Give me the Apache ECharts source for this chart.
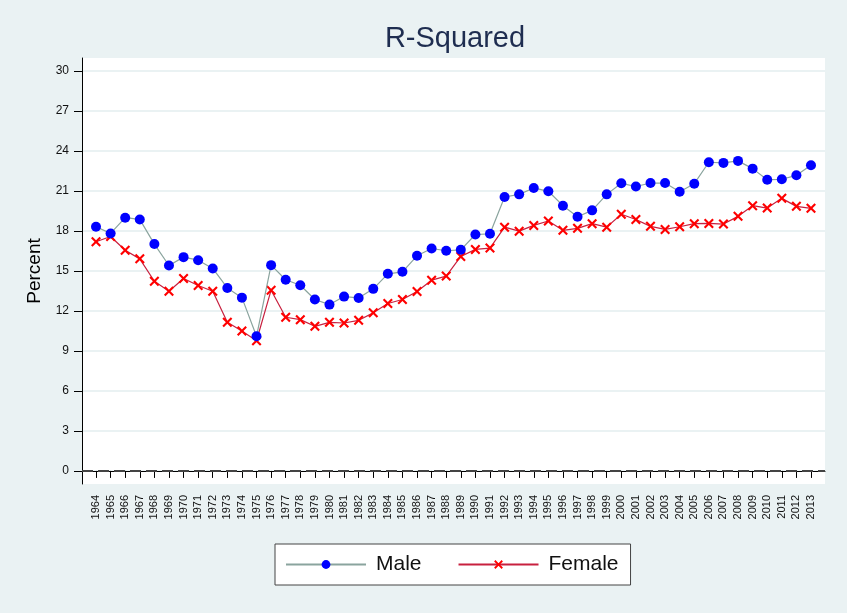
<!DOCTYPE html>
<html>
<head>
<meta charset="utf-8">
<script src="https://cdn.jsdelivr.net/npm/echarts@6/dist/echarts.min.js"></script>
<style>
  html, body { margin: 0; padding: 0; background: #eaf2f3; }
  #chart { width: 847px; height: 613px; }
</style>
</head>
<body>
<div id="chart"></div>
<script>
// years on the x axis
var years = [];
for (var y = 1964; y <= 2013; y++) years.push(y);

// values (percent)
var male = [18.32, 17.82, 19.0, 18.87, 17.02, 15.41, 16.04, 15.81, 15.19, 13.73, 13.0, 10.1,
  15.44, 14.34, 13.93, 12.86, 12.48, 13.08, 12.98, 13.66, 14.79, 14.94, 16.14, 16.69, 16.52,
  16.59, 17.74, 17.79, 20.55, 20.75, 21.23, 20.98, 19.9, 19.07, 19.55, 20.75, 21.58, 21.34,
  21.6, 21.6, 20.95, 21.55, 23.16, 23.11, 23.26, 22.68, 21.85, 21.88, 22.18, 22.93];
var female = [17.19, 17.59, 16.56, 15.91, 14.23, 13.48, 14.44, 13.91, 13.48, 11.15, 10.5, 9.77,
  13.56, 11.53, 11.35, 10.85, 11.15, 11.1, 11.3, 11.86, 12.56, 12.86, 13.46, 14.31, 14.62,
  16.09, 16.62, 16.72, 18.29, 17.99, 18.42, 18.75, 18.05, 18.2, 18.55, 18.29, 19.26, 18.86,
  18.35, 18.12, 18.32, 18.55, 18.57, 18.52, 19.1, 19.9, 19.72, 20.45, 19.85, 19.7];

// y tick labels
var yTicks = [0, 3, 6, 9, 12, 15, 18, 21, 24, 27, 30];
var zeroLine = 0;

// axis ranges
var xMin = 1963.04, xMax = 2013.96;
var yMin = -0.98, yMax = 30.98;

function pairs(vals) {
  return years.map(function (yr, i) { return [yr, vals[i]]; });
}

var crossPath = 'path://M1.5,0L5,3.5L8.5,0L10,1.5L6.5,5L10,8.5L8.5,10L5,6.5L1.5,10L0,8.5L3.5,5L0,1.5Z';
var font = "'Liberation Sans', Arial, sans-serif";

var chart = echarts.init(document.getElementById('chart'));
chart.setOption({
  animation: false,
  backgroundColor: '#eaf2f3',
  textStyle: { fontFamily: font },
  title: {
    text: 'R-Squared',
    left: 450,
    textAlign: 'center',
    top: 19,
    textStyle: { color: '#1e2d50', fontSize: 29, fontWeight: 'normal', fontFamily: font }
  },
  legend: {
    left: 275,
    top: 544,
    padding: [10, 12, 10, 10],
    itemGap: 36,
    itemWidth: 80,
    itemHeight: 11,
    backgroundColor: '#ffffff',
    borderColor: '#444444',
    borderWidth: 1,
    borderRadius: 0,
    textStyle: { fontSize: 21, color: '#111', fontFamily: font, padding: [0, 0, 0, 5] },
    data: ['Male', 'Female']
  },
  grid: {
    left: 82,
    right: 22,
    top: 58,
    bottom: 129,
    show: true,
    backgroundColor: '#ffffff',
    borderWidth: 0
  },
  xAxis: {
    type: 'value',
    min: xMin,
    max: xMax,
    axisLine: { show: true, lineStyle: { color: '#000', width: 1 } },
    axisTick: { show: true, length: 7, customValues: years, lineStyle: { color: '#000' } },
    axisLabel: {
      customValues: years,
      rotate: 90,
      margin: 11,
      fontSize: 11,
      color: '#111',
      formatter: function (v) { return String(v); }
    },
    splitLine: { show: false }
  },
  yAxis: {
    type: 'value',
    min: yMin,
    max: yMax,
    name: 'Percent',
    nameLocation: 'middle',
    nameRotate: 90,
    nameGap: 36,
    nameTextStyle: { fontSize: 19, color: '#000', fontFamily: font },
    axisLine: { show: true, lineStyle: { color: '#000', width: 1 } },
    axisTick: { show: true, length: 8, customValues: yTicks, lineStyle: { color: '#000' } },
    axisLabel: { customValues: yTicks, margin: 13, fontSize: 12, color: '#111' },
    splitLine: { show: true, lineStyle: { color: '#eaf2f3', width: 2 } }
  },
  series: [
    {
      // dashed reference line at zero
      name: 'zero',
      type: 'line',
      data: [[xMin, zeroLine], [xMax, zeroLine]],
      showSymbol: false,
      silent: true,
      lineStyle: { color: '#444444', width: 2, type: [11, 5] },
      z: 1
    },
    {
      name: 'Male',
      type: 'line',
      data: pairs(male),
      symbol: 'circle',
      symbolSize: 10,
      itemStyle: { color: '#0000ff' },
      lineStyle: { color: '#8aa49e', width: 1.2 },
      z: 3
    },
    {
      name: 'Female',
      type: 'line',
      data: pairs(female),
      symbol: crossPath,
      symbolSize: 10,
      itemStyle: { color: '#ff0000' },
      lineStyle: { color: '#c8203f', width: 1.2 },
      z: 2
    }
  ]
});
</script>
</body>
</html>
